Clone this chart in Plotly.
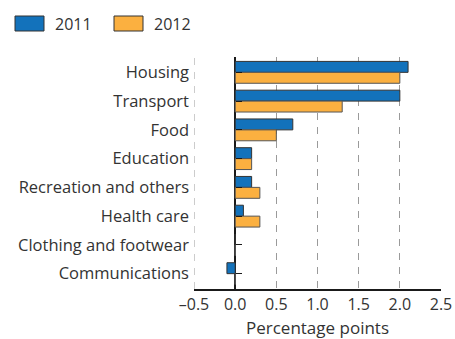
import plotly.graph_objects as go

# Datos
categories = ['Housing', 'Transport', 'Food', 'Education', 'Recreation and others',
              'Health care', 'Clothing and footwear', 'Communications']
values_2011 = [2.1, 2.0, 0.7, 0.2, 0.2, 0.1, 0.0, -0.1]
values_2012 = [2.0, 1.3, 0.5, 0.2, 0.3, 0.3, 0.0, 0.0]
x_ticks = [-0.5, 0.0, 0.5, 1.0, 1.5, 2.0, 2.5]
x_tick_labels = ['–0.5', '0.0', '0.5', '1.0', '1.5', '2.0', '2.5']

blue = '#1372bb'
orange = '#fbb040'
font_family = 'Open Sans'
text_color = '#333333'

# geometria del area de trazado (px)
FW, FH = 455, 339
L, R, T, B = 194, 14, 57, 50
W, H = FW - L - R, FH - T - B

fig = go.Figure()
fig.add_trace(go.Bar(y=categories, x=values_2011, orientation='h', name='2011',
                     marker=dict(color=blue, line=dict(color='#333333', width=1))))
fig.add_trace(go.Bar(y=categories, x=values_2012, orientation='h', name='2012',
                     marker=dict(color=orange, line=dict(color='#555555', width=1))))

zero_pos = (0 - x_ticks[0]) / (x_ticks[-1] - x_ticks[0])

fig.update_layout(
    width=FW, height=FH,
    margin=dict(l=L, r=R, t=T, b=B, autoexpand=False),
    plot_bgcolor='white', paper_bgcolor='white',
    barmode='group', bargap=0.24, bargroupgap=0.0,
    showlegend=False,
    font=dict(family=font_family, size=14, color=text_color),
    xaxis=dict(
        range=[x_ticks[0], x_ticks[-1]], tickvals=x_ticks, ticktext=x_tick_labels,
        tickfont=dict(size=16, color=text_color),
        showgrid=True, gridcolor='#9a9a9a', gridwidth=1, griddash='7px,7px',
        zeroline=True, zerolinecolor='#1a1a1a', zerolinewidth=2,
        showline=True, linecolor='#1a1a1a', linewidth=2,
        ticks='', automargin=False,
        title=dict(text='Percentage points', standoff=9, font=dict(size=17)),
    ),
    yaxis=dict(
        autorange='reversed', ticks='', showgrid=False, showline=False,
        tickfont=dict(size=16.5, color=text_color),
        ticklabelstandoff=4, automargin=False,
    ),
    yaxis2=dict(
        overlaying='y', anchor='free', position=zero_pos, side='right',
        matches='y', ticks='outside', ticklen=6, tickcolor='#1a1a1a', tickwidth=1,
        showticklabels=False, showgrid=False, showline=False, automargin=False,
    ),
)

# trazo invisible para activar el segundo eje y (marcas en el cero)
fig.add_trace(go.Scatter(y=categories, x=[0] * len(categories), yaxis='y2',
                         mode='markers', marker=dict(opacity=0), hoverinfo='skip'))

# linea discontinua en el borde izquierdo (-0.5)
fig.add_shape(type='line', xref='x', yref='paper', x0=x_ticks[0], x1=x_ticks[0],
              y0=0, y1=1, line=dict(color='#9a9a9a', width=1, dash='7px,7px'))

# leyenda manual (posiciones en px)
legend_items = [('2011', blue, 15), ('2012', orange, 114)]
for label, color, x0 in legend_items:
    fig.add_shape(type='rect', xref='paper', yref='paper',
                  x0=(x0 - L) / W, x1=(x0 + 29 - L) / W,
                  y0=(T + H - 31) / H, y1=(T + H - 16) / H,
                  fillcolor=color, line=dict(color='#333333', width=1))
    fig.add_annotation(text=label, xref='paper', yref='paper',
                       x=(x0 + 38 - L) / W, y=(T + H - 23.5) / H,
                       xanchor='left', yanchor='middle', showarrow=False,
                       font=dict(size=16, color=text_color))

# quitar el margen por defecto del body para que la figura ocupe toda la ventana
fig.write_html('out.html', config={'displayModeBar': False},
               post_script="document.body.style.margin='0px';"
               "document.body.style.overflow='hidden';")
